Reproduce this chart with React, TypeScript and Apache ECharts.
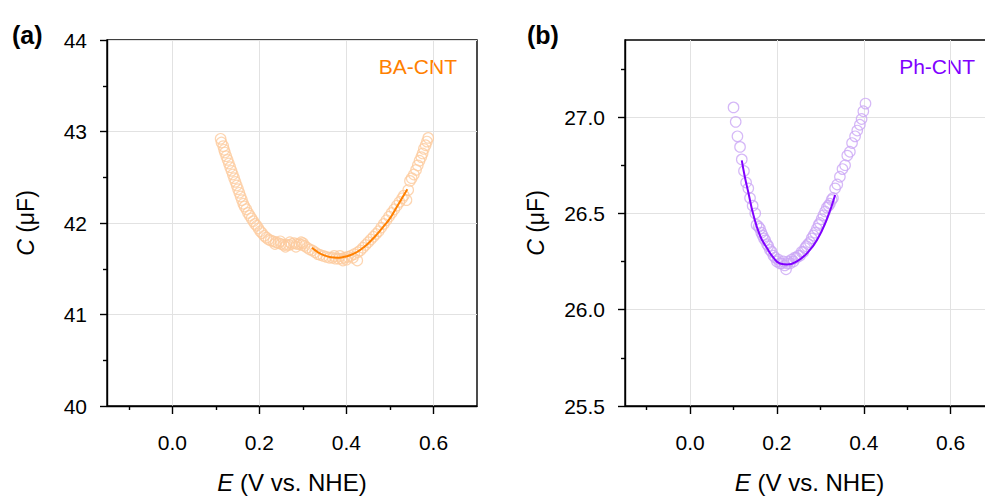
import React, { useEffect, useRef } from 'react';
import * as echarts from 'echarts';

// ---------- data ----------
const xMajor = [0, 0.2, 0.4, 0.6];
const xMinor = [-0.1, 0.1, 0.3, 0.5];
const yMajorA = [40, 41, 42, 43, 44];
const yMinorA = [40.5, 41.5, 42.5, 43.5];
const yMajorB = [25.5, 26.0, 26.5, 27.0];
const yMinorB = [25.75, 26.25, 26.75, 27.25];

const baPoints: [number, number][] = [
  [0.111, 42.92], [0.113, 42.88], [0.117, 42.84], [0.119, 42.8], [0.121, 42.77], [0.124, 42.73],
  [0.127, 42.69], [0.13, 42.65], [0.133, 42.61], [0.136, 42.57], [0.139, 42.53], [0.142, 42.49],
  [0.145, 42.45], [0.148, 42.41], [0.151, 42.37], [0.154, 42.33], [0.157, 42.29], [0.16, 42.25],
  [0.163, 42.21], [0.166, 42.18], [0.17, 42.15], [0.174, 42.11], [0.178, 42.08], [0.182, 42.05],
  [0.186, 42.02], [0.19, 41.99], [0.194, 41.97], [0.198, 41.94], [0.202, 41.91], [0.206, 41.89],
  [0.211, 41.86], [0.216, 41.84], [0.221, 41.82], [0.226, 41.81], [0.232, 41.8], [0.236, 41.77],
  [0.238, 41.79], [0.244, 41.78], [0.248, 41.8], [0.25, 41.77], [0.256, 41.76], [0.26, 41.74],
  [0.262, 41.76], [0.268, 41.76], [0.27, 41.79], [0.274, 41.77], [0.28, 41.78], [0.284, 41.74],
  [0.286, 41.77], [0.292, 41.77], [0.296, 41.79], [0.298, 41.76], [0.3, 41.78], [0.304, 41.75],
  [0.31, 41.73], [0.316, 41.71], [0.322, 41.7], [0.328, 41.68], [0.334, 41.66], [0.34, 41.65],
  [0.347, 41.64], [0.354, 41.63], [0.361, 41.62], [0.368, 41.62], [0.372, 41.64], [0.375, 41.61],
  [0.382, 41.61], [0.385, 41.64], [0.389, 41.61], [0.392, 41.59], [0.396, 41.62], [0.4, 41.6],
  [0.403, 41.63], [0.41, 41.64], [0.415, 41.62], [0.418, 41.66], [0.425, 41.59], [0.426, 41.68],
  [0.432, 41.7], [0.438, 41.73], [0.444, 41.76], [0.45, 41.79], [0.456, 41.82], [0.462, 41.85],
  [0.468, 41.88], [0.474, 41.91], [0.48, 41.95], [0.486, 41.99], [0.492, 42.03], [0.498, 42.07],
  [0.504, 42.11], [0.51, 42.15], [0.516, 42.19], [0.522, 42.23], [0.528, 42.27], [0.532, 42.3],
  [0.538, 42.25], [0.542, 42.36], [0.546, 42.46], [0.55, 42.49], [0.555, 42.53], [0.56, 42.58],
  [0.564, 42.63], [0.568, 42.68], [0.572, 42.72], [0.575, 42.76], [0.578, 42.81], [0.582, 42.85],
  [0.585, 42.89], [0.588, 42.93],
];

const baFit: [number, number][] = [
  [0.321, 41.73], [0.335, 41.68], [0.35, 41.645], [0.365, 41.625], [0.378, 41.62], [0.395, 41.63],
  [0.41, 41.65], [0.425, 41.685], [0.44, 41.735], [0.455, 41.8], [0.47, 41.875], [0.485, 41.96],
  [0.5, 42.05], [0.515, 42.17], [0.53, 42.29], [0.54, 42.37],
];

const phPoints: [number, number][] = [
  [0.1, 27.05], [0.105, 26.975], [0.109, 26.9], [0.115, 26.845], [0.119, 26.78], [0.124, 26.72],
  [0.129, 26.66], [0.134, 26.63], [0.138, 26.58], [0.144, 26.54], [0.15, 26.5], [0.153, 26.44],
  [0.158, 26.43], [0.161, 26.42], [0.164, 26.4], [0.167, 26.385], [0.17, 26.37], [0.173, 26.36],
  [0.177, 26.34], [0.18, 26.33], [0.184, 26.31], [0.188, 26.3], [0.192, 26.28], [0.196, 26.27],
  [0.2, 26.25], [0.203, 26.26], [0.207, 26.24], [0.211, 26.24], [0.215, 26.25], [0.218, 26.23],
  [0.221, 26.21], [0.224, 26.24], [0.226, 26.25], [0.23, 26.24], [0.234, 26.26], [0.238, 26.25],
  [0.241, 26.27], [0.245, 26.27], [0.249, 26.28], [0.253, 26.28], [0.257, 26.3], [0.261, 26.3],
  [0.265, 26.32], [0.268, 26.33], [0.272, 26.34], [0.276, 26.35], [0.28, 26.37], [0.284, 26.385],
  [0.288, 26.4], [0.292, 26.42], [0.296, 26.44], [0.299, 26.45], [0.303, 26.47], [0.307, 26.49],
  [0.311, 26.51], [0.315, 26.53], [0.319, 26.54], [0.322, 26.55], [0.326, 26.57], [0.329, 26.58],
  [0.334, 26.63], [0.339, 26.65], [0.345, 26.69], [0.351, 26.73], [0.357, 26.75], [0.362, 26.8],
  [0.368, 26.82], [0.373, 26.865], [0.38, 26.9], [0.385, 26.93], [0.391, 26.96], [0.395, 26.99],
  [0.399, 27.03], [0.404, 27.07],
];

const phFit: [number, number][] = [
  [0.119, 26.775], [0.126, 26.69], [0.134, 26.61], [0.146, 26.49], [0.161, 26.385], [0.177, 26.32],
  [0.192, 26.27], [0.207, 26.24], [0.224, 26.235], [0.245, 26.25], [0.268, 26.29], [0.292, 26.36],
  [0.315, 26.47], [0.334, 26.595],
];

// ---------- styles ----------
const FONT = '"Liberation Sans", Arial, Helvetica, sans-serif';
const BLACK = '#000';
const GRIDLINE = '#e2e2e2';
const ORANGE = '#FF8000';
const ORANGE_LIGHT = '#FDCB9D';
const PURPLE = '#8000FF';
const PURPLE_LIGHT = '#CBA6F5';

const xMajorAxis = (gridIndex: number) => ({
  type: 'value',
  gridIndex,
  min: -0.15,
  max: 0.7,
  position: 'bottom',
  axisLine: { show: true, onZero: false, lineStyle: { color: BLACK, width: 1.4 } },
  axisTick: { show: true, inside: false, length: 8, customValues: xMajor, lineStyle: { color: BLACK, width: 1.4 } },
  axisLabel: {
    customValues: xMajor,
    formatter: (v: number) => v.toFixed(1),
    fontSize: 21,
    color: BLACK,
    fontFamily: FONT,
    margin: 26,
  },
  splitLine: { show: true, lineStyle: { color: GRIDLINE, width: 1 } },
  name: '{i|E} (V vs. NHE)',
  nameLocation: 'middle',
  nameGap: 64,
  nameTextStyle: {
    fontSize: 24,
    color: BLACK,
    fontFamily: FONT,
    rich: { i: { fontStyle: 'italic', fontSize: 24, color: BLACK, fontFamily: FONT } },
  },
});

const xMinorAxis = (gridIndex: number) => ({
  type: 'value',
  gridIndex,
  min: -0.15,
  max: 0.7,
  position: 'bottom',
  offset: 0,
  axisLine: { show: false, onZero: false },
  axisTick: { show: true, inside: false, length: 4, customValues: xMinor, lineStyle: { color: BLACK, width: 1.4 } },
  axisLabel: { show: false },
  splitLine: { show: false },
});

const yMajorAxis = (
  gridIndex: number,
  min: number,
  max: number,
  ticks: number[],
  digits: number,
  nameGap: number
) => ({
  type: 'value',
  gridIndex,
  min,
  max,
  position: 'left',
  axisLine: { show: true, onZero: false, lineStyle: { color: BLACK, width: 1.4 } },
  axisTick: { show: true, inside: false, length: 7, customValues: ticks, lineStyle: { color: BLACK, width: 1.4 } },
  axisLabel: {
    customValues: ticks,
    formatter: (v: number) => v.toFixed(digits),
    fontSize: 21,
    color: BLACK,
    fontFamily: FONT,
    margin: 20,
  },
  splitLine: { show: true, lineStyle: { color: GRIDLINE, width: 1 } },
  name: '{i|C} (μF)',
  nameLocation: 'middle',
  nameGap,
  nameTextStyle: {
    fontSize: 23,
    color: BLACK,
    fontFamily: FONT,
    rich: { i: { fontStyle: 'italic', fontSize: 23, color: BLACK, fontFamily: FONT } },
  },
});

const yMinorAxis = (gridIndex: number, min: number, max: number, ticks: number[]) => ({
  type: 'value',
  gridIndex,
  min,
  max,
  position: 'left',
  offset: 0,
  axisLine: { show: false, onZero: false },
  axisTick: { show: true, inside: false, length: 4, customValues: ticks, lineStyle: { color: BLACK, width: 1.4 } },
  axisLabel: { show: false },
  splitLine: { show: false },
});

export default function App() {
  const ref = useRef<HTMLDivElement>(null);

  useEffect(() => {
    if (!ref.current) return;
    const chart = echarts.init(ref.current, undefined, { renderer: 'svg' });
    const option = {
      animation: false,
      backgroundColor: '#fff',
      grid: [
        { left: 107, top: 40, width: 370, height: 369, show: true, borderColor: BLACK, borderWidth: 1.4, backgroundColor: 'transparent' },
        { left: 625, top: 40, width: 369, height: 369, show: true, borderColor: BLACK, borderWidth: 1.4, backgroundColor: 'transparent' },
      ],
      xAxis: [xMajorAxis(0), xMinorAxis(0), xMajorAxis(1), xMinorAxis(1)],
      yAxis: [
        yMajorAxis(0, 40, 44, yMajorA, 0, 70),
        yMinorAxis(0, 40, 44, yMinorA),
        yMajorAxis(1, 25.5, 27.4, yMajorB, 1, 78),
        yMinorAxis(1, 25.5, 27.4, yMinorB),
      ],
      series: [
        {
          type: 'scatter',
          xAxisIndex: 0,
          yAxisIndex: 0,
          data: baPoints,
          symbol: 'circle',
          symbolSize: 10.5,
          silent: true,
          z: 2,
          itemStyle: { color: 'rgba(255,255,255,0)', borderColor: ORANGE_LIGHT, borderWidth: 1.2 },
        },
        {
          type: 'line',
          xAxisIndex: 0,
          yAxisIndex: 0,
          data: baFit,
          smooth: true,
          symbol: 'none',
          silent: true,
          z: 3,
          lineStyle: { color: ORANGE, width: 2 },
        },
        {
          type: 'scatter',
          xAxisIndex: 2,
          yAxisIndex: 2,
          data: phPoints,
          symbol: 'circle',
          symbolSize: 10.5,
          silent: true,
          z: 2,
          itemStyle: { color: 'rgba(255,255,255,0)', borderColor: PURPLE_LIGHT, borderWidth: 1.2 },
        },
        {
          type: 'line',
          xAxisIndex: 2,
          yAxisIndex: 2,
          data: phFit,
          smooth: true,
          symbol: 'none',
          silent: true,
          z: 3,
          lineStyle: { color: PURPLE, width: 2 },
        },
      ],
      graphic: [
        { type: 'text', x: 12, y: 35, style: { text: '(a)', fontSize: 25, fontWeight: 'bold', fontFamily: FONT, fill: BLACK, verticalAlign: 'middle' } },
        { type: 'text', x: 527, y: 35, style: { text: '(b)', fontSize: 25, fontWeight: 'bold', fontFamily: FONT, fill: BLACK, verticalAlign: 'middle' } },
        { type: 'text', x: 457, y: 66, style: { text: 'BA-CNT', fontSize: 21, fontFamily: FONT, fill: ORANGE, align: 'right', verticalAlign: 'middle' } },
        { type: 'text', x: 975, y: 66, style: { text: 'Ph-CNT', fontSize: 21, fontFamily: FONT, fill: PURPLE, align: 'right', verticalAlign: 'middle' } },
      ],
    };
    chart.setOption(option as any);
    return () => chart.dispose();
  }, []);

  return (
    <div
      style={{ position: 'fixed', left: 0, top: 0, width: 985, height: 499, overflow: 'hidden', background: '#fff' }}
    >
      <div ref={ref} style={{ width: 1000, height: 499 }} />
    </div>
  );
}
